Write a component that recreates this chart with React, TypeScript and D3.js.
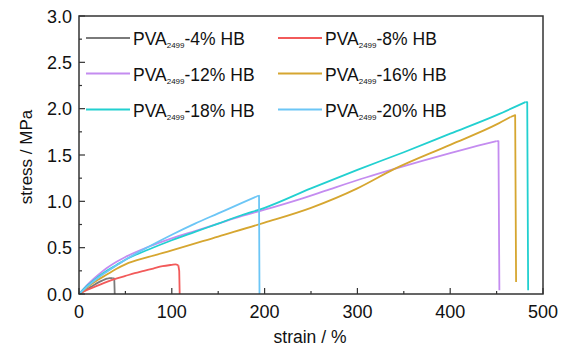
import React from "react";
import * as d3 from "d3";

const W = 566, H = 349;
const M = { left: 79, right: 543, top: 16, bottom: 294 };

const xTicks = [0, 100, 200, 300, 400, 500];
const yTicks = [0, 0.5, 1.0, 1.5, 2.0, 2.5, 3.0];
const xMinor = [50, 150, 250, 350, 450];
const yMinor = [0.25, 0.75, 1.25, 1.75, 2.25, 2.75];

const seriesNames = ["4%", "8%", "12%", "16%", "18%", "20%"];
const seriesColors = ["#7a7a7a", "#f25a5a", "#c48cf0", "#d6a630", "#22d0d0", "#6cc6f6"];

const s4: [number, number][] = [[0,0],[5,0.03],[10,0.06],[15,0.09],[20,0.12],[25,0.145],[30,0.165],[33,0.172],[36,0.17],[38,0.165],[38.5,0]];
const s8: [number, number][] = [[0,0],[10,0.05],[20,0.09],[30,0.13],[40,0.165],[50,0.195],[60,0.225],[70,0.25],[80,0.275],[90,0.3],[100,0.315],[104,0.32],[107,0.31],[108,0.25],[108.5,0]];
const s12: [number, number][] = [[0,0],[10,0.11],[20,0.2],[30,0.28],[40,0.345],[50,0.4],[75,0.51],[100,0.6],[125,0.68],[150,0.76],[175,0.84],[200,0.91],[240,1.03],[270,1.13],[310,1.26],[340,1.35],[400,1.52],[430,1.6],[450,1.65],[452,1.65],[453,0.04]];
const s16: [number, number][] = [[0,0],[10,0.08],[20,0.15],[30,0.21],[40,0.27],[50,0.32],[75,0.4],[100,0.47],[150,0.62],[200,0.77],[250,0.93],[300,1.14],[340,1.35],[400,1.61],[450,1.83],[465,1.91],[470,1.93],[471,0.13]];
const s18: [number, number][] = [[0,0],[10,0.1],[20,0.18],[30,0.25],[40,0.31],[50,0.37],[75,0.48],[100,0.58],[125,0.67],[150,0.76],[175,0.85],[200,0.93],[250,1.14],[300,1.34],[350,1.53],[400,1.73],[450,1.93],[481,2.07],[483,2.07],[484,0.04]];
const s20: [number, number][] = [[0,0],[10,0.09],[20,0.17],[30,0.24],[50,0.37],[75,0.51],[100,0.64],[125,0.76],[150,0.87],[175,0.98],[192,1.055],[194,1.06],[194.5,0]];

const seriesData = [s4, s8, s12, s16, s18, s20];

export default function App() {
  const x = d3.scaleLinear().domain([0, 500]).range([M.left, M.right]);
  const y = d3.scaleLinear().domain([0, 3]).range([M.bottom, M.top]);
  const curve = d3.line<[number, number]>().x(d => x(d[0])).y(d => y(d[1])).curve(d3.curveMonotoneX);
  const straight = d3.line<[number, number]>().x(d => x(d[0])).y(d => y(d[1]));
  const font = "'Liberation Sans', Arial, sans-serif";
  const axisColor = "#333";

  const legendPos = [
    { lx: 86, ty: 38 }, { lx: 278, ty: 38 },
    { lx: 86, ty: 73.5 }, { lx: 278, ty: 73.5 },
    { lx: 86, ty: 109.5 }, { lx: 278, ty: 109.5 },
  ];

  return (
    <svg width={W} height={H} style={{ position: "absolute", left: 0, top: 0, background: "#fff" }} fontFamily={font}>
      {seriesData.map((d, i) => {
        const n = d.length;
        const rise = d.slice(0, n - 2);
        const tail = d.slice(n - 3);
        return (
          <g key={i} fill="none" stroke={seriesColors[i]} strokeWidth={1.8} strokeLinejoin="round">
            <path d={curve(rise) || ""} />
            <path d={straight(tail) || ""} />
          </g>
        );
      })}
      <rect x={M.left} y={M.top} width={M.right - M.left} height={M.bottom - M.top} fill="none" stroke={axisColor} strokeWidth={1.5} />
      {xTicks.map(t => (
        <g key={"x" + t}>
          <line x1={x(t)} x2={x(t)} y1={M.bottom} y2={M.bottom - 6} stroke={axisColor} strokeWidth={1.2} />
          <text x={x(t)} y={318} textAnchor="middle" fontSize={18} fill="#111">{t}</text>
        </g>
      ))}
      {xMinor.map(t => (
        <line key={"xm" + t} x1={x(t)} x2={x(t)} y1={M.bottom} y2={M.bottom - 3} stroke={axisColor} strokeWidth={1.2} />
      ))}
      {yTicks.map(t => (
        <g key={"y" + t}>
          <line x1={M.left} x2={M.left + 6} y1={y(t)} y2={y(t)} stroke={axisColor} strokeWidth={1.2} />
          <text x={72} y={y(t) + 6.5} textAnchor="end" fontSize={18} fill="#111">{t.toFixed(1)}</text>
        </g>
      ))}
      {yMinor.map(t => (
        <line key={"ym" + t} x1={M.left} x2={M.left + 3} y1={y(t)} y2={y(t)} stroke={axisColor} strokeWidth={1.2} />
      ))}
      <text x={310} y={343} textAnchor="middle" fontSize={17.5} fill="#111">strain / %</text>
      <text transform={`translate(32,${157}) rotate(-90)`} textAnchor="middle" fontSize={17} fill="#111">stress / MPa</text>
      {seriesNames.map((n, i) => {
        const p = legendPos[i];
        return (
          <g key={"lg" + i}>
            <line x1={p.lx} x2={p.lx + 44} y1={p.ty} y2={p.ty} stroke={seriesColors[i]} strokeWidth={1.8} />
            <text x={p.lx + 47} y={p.ty + 7} fontSize={17.5} fill="#111">
              PVA<tspan fontSize={8} dy={3}>2499</tspan><tspan dy={-3}>-{n} HB</tspan>
            </text>
          </g>
        );
      })}
    </svg>
  );
}
